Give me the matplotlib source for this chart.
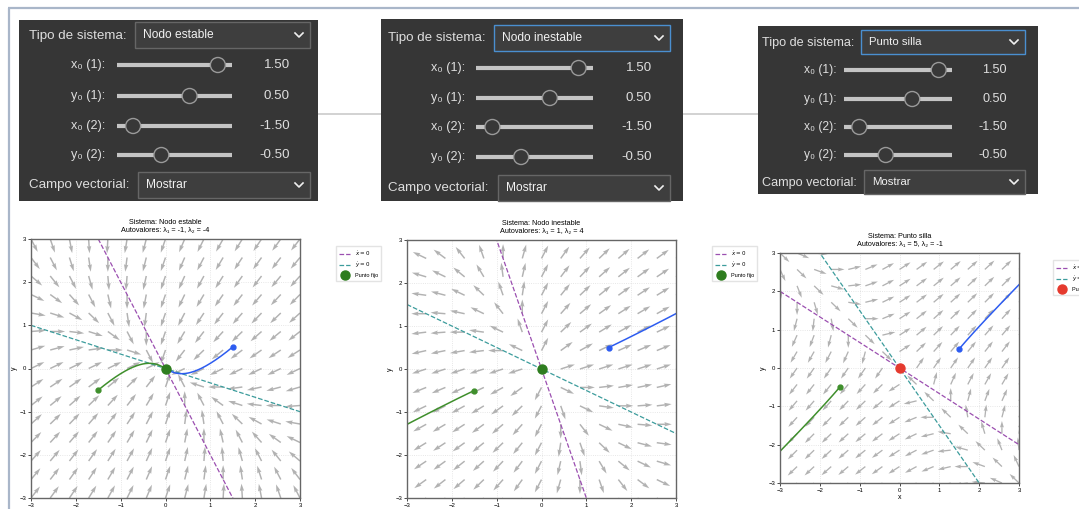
import numpy as np
import matplotlib
matplotlib.use("Agg")
import matplotlib.pyplot as plt
from matplotlib import patches

plt.rcParams['font.family'] = ['Liberation Sans', 'DejaVu Sans']

W, H = 1079, 509

# Sistemas lineales x' = A x
sistemas = ["Nodo estable", "Nodo inestable", "Punto silla"]
autovalores = [("-1", "-4"), ("1", "4"), ("5", "-1")]
matrices = [
    [[-2, -1], [-1, -3]],
    [[3, 1], [1, 2]],
    [[2, 3], [3, 2]],
]
color_punto_fijo = ["#2e7d1f", "#2e7d1f", "#e53a2e"]

# Condiciones iniciales (valores de los sliders)
etiquetas_slider = ["x\u2080 (1):", "y\u2080 (1):", "x\u2080 (2):", "y\u2080 (2):"]
valores_slider = [1.5, 0.5, -1.5, -0.5]
rango_slider = (-2.0, 2.0)
campo_vectorial = "Mostrar"

# Geometria de cada panel de controles (pixeles)
paneles = [
    dict(caja=(19, 20, 318, 201), lx=29, ty=36, drop=(135, 22, 310, 48),
         filas=[65, 96, 126, 155], lr=105, pista=(117, 232), vr=290,
         cy=185, drop2=(138, 172, 310, 198), azul=False, fs=9.6),
    dict(caja=(381, 19, 683, 201), lx=388, ty=38, drop=(494, 25, 670, 51),
         filas=[68, 98, 127, 157], lr=465, pista=(476, 593), vr=652,
         cy=188, drop2=(498, 175, 670, 201), azul=True, fs=9.6),
    dict(caja=(758, 26, 1038, 194), lx=762, ty=43, drop=(861, 30, 1025, 54),
         filas=[70, 99, 127, 155], lr=837, pista=(844, 952), vr=1007,
         cy=183, drop2=(864, 170, 1025, 194), azul=True, fs=9.1),
]
# Ejes de cada grafico (pixeles: x0, y0, x1, y1) y posicion de la leyenda
ejes_px = [(31, 239, 300, 498), (407, 240, 676, 498), (780, 253, 1019, 483)]
leyenda_px = [(333, 243), (709, 243), (1050, 257)]

fig = plt.figure(figsize=(W / 100, H / 100), dpi=100)
fig.patch.set_facecolor("white")

ui = fig.add_axes([0, 0, 1, 1])
ui.set_xlim(0, W)
ui.set_ylim(H, 0)
ui.axis("off")

# marco de la pagina y linea que une los paneles
ui.plot([8, W], [8, 8], color="#a9b6c9", lw=1.6, solid_capstyle="butt")
ui.plot([9, 9], [8, H], color="#a9b6c9", lw=1.6, solid_capstyle="butt")
ui.plot([318, 758], [114, 114], color="#d2d2d2", lw=1.4, zorder=0)

txt = "#dedede"


def desplegable(x0, y0, x1, y1, texto, fs, azul):
    borde = "#4a8fd0" if azul else "#666666"
    ui.add_patch(patches.Rectangle((x0, y0), x1 - x0, y1 - y0, facecolor="#3e3e3e",
                                   edgecolor=borde, lw=1.0, zorder=3))
    cy = (y0 + y1) / 2
    ui.text(x0 + 8, cy, texto, color="#f2f2f2", fontsize=fs * 0.9,
            va="center", ha="left", zorder=4)
    cx = x1 - 11
    ui.plot([cx - 4, cx, cx + 4], [cy - 2, cy + 2, cy - 2], color="#f0f0f0",
            lw=1.2, zorder=4)


for i, p in enumerate(paneles):
    x0, y0, x1, y1 = p["caja"]
    ui.add_patch(patches.Rectangle((x0, y0), x1 - x0, y1 - y0, facecolor="#363636",
                                   edgecolor="none", zorder=2))
    fs = p["fs"]
    ui.text(p["lx"], p["ty"], "Tipo de sistema:", color=txt, fontsize=fs,
            va="center", ha="left", zorder=4)
    desplegable(*p["drop"], sistemas[i], fs, p["azul"])

    tl, tr = p["pista"]
    for fy, etiqueta, val in zip(p["filas"], etiquetas_slider, valores_slider):
        ui.text(p["lr"], fy, etiqueta, color=txt, fontsize=fs * 0.95,
                va="center", ha="right", zorder=4)
        ui.plot([tl, tr], [fy, fy], color="#c4c4c4", lw=3.0,
                solid_capstyle="butt", zorder=3)
        kx = tl + 2 + (val - rango_slider[0]) / (rango_slider[1] - rango_slider[0]) * (tr - tl - 2)
        ui.add_patch(patches.Circle((kx, fy), 7.5, facecolor="#383838",
                                    edgecolor="#9a9a9a", lw=1.0, zorder=5))
        ui.text(p["vr"], fy, f"{val:.2f}", color=txt, fontsize=fs,
                va="center", ha="right", zorder=4)

    ui.text(p["lx"], p["cy"], "Campo vectorial:", color=txt, fontsize=fs,
            va="center", ha="left", zorder=4)
    desplegable(*p["drop2"], campo_vectorial, fs, False)

# Retratos de fase
malla = np.linspace(-3, 3, 15)
X, Y = np.meshgrid(malla, malla)
t = np.linspace(0, 4, 600)
xs = np.linspace(-3, 3, 50)

for i, A in enumerate(matrices):
    A = np.array(A, dtype=float)
    x0, y0, x1, y1 = ejes_px[i]
    ax = fig.add_axes([x0 / W, 1 - y1 / H, (x1 - x0) / W, (y1 - y0) / H])

    U = A[0, 0] * X + A[0, 1] * Y
    V = A[1, 0] * X + A[1, 1] * Y
    N = np.hypot(U, V)
    N[N == 0] = 1
    ax.quiver(X, Y, U / N, V / N, color="gray", alpha=0.6, angles="xy",
              scale_units="xy", scale=3.0, width=0.0055)

    # nulclinas
    ax.plot(xs, -A[0, 0] / A[0, 1] * xs, "--", color="#9b4fb0", lw=0.9,
            label=r"$\dot{x} = 0$")
    ax.plot(xs, -A[1, 0] / A[1, 1] * xs, "--", color="#3c9c9c", lw=0.9,
            label=r"$\dot{y} = 0$")

    # trayectorias x(t) = V exp(Lt) V^T x0
    lam, vec = np.linalg.eigh(A)
    for (cx, cy), col in [((valores_slider[0], valores_slider[1]), "#2d5cf0"),
                          ((valores_slider[2], valores_slider[3]), "#3f8f2c")]:
        c = vec.T @ np.array([cx, cy])
        tray = vec @ (c[:, None] * np.exp(np.outer(lam, t)))
        ax.plot(tray[0], tray[1], color=col, lw=1.1)
        ax.plot(cx, cy, "o", color=col, ms=3.5)

    ax.plot(0, 0, "o", color=color_punto_fijo[i], ms=6.5, label="Punto fijo", zorder=5)

    ax.set_xlim(-3, 3)
    ax.set_ylim(-3, 3)
    ax.set_xticks(range(-3, 4))
    ax.set_yticks(range(-3, 4))
    ax.tick_params(labelsize=4.3, length=2, width=0.5, pad=1.5)
    ax.grid(True, linestyle=":", alpha=0.4, lw=0.6)
    for s in ax.spines.values():
        s.set_color("#666666")
        s.set_linewidth(1.0)
    if y1 < 490:
        ax.set_xlabel("x", fontsize=5, labelpad=1)
    ax.set_ylabel("y", fontsize=5, labelpad=1)
    l1, l2 = autovalores[i]
    ax.set_title(f"Sistema: {sistemas[i]}\n"
                 f"Autovalores: \u03bb\u2081 = {l1}, \u03bb\u2082 = {l2}",
                 fontsize=5.2, pad=5, linespacing=1.3)

    lx, ly = leyenda_px[i]
    ax.legend(loc="upper left", bbox_to_anchor=(lx / W, 1 - ly / H),
              bbox_transform=fig.transFigure, fontsize=4, frameon=True,
              borderpad=0.6, handlelength=2.0, labelspacing=0.5,
              fancybox=False, edgecolor="#dddddd")

fig.savefig("out.png", dpi=100)
